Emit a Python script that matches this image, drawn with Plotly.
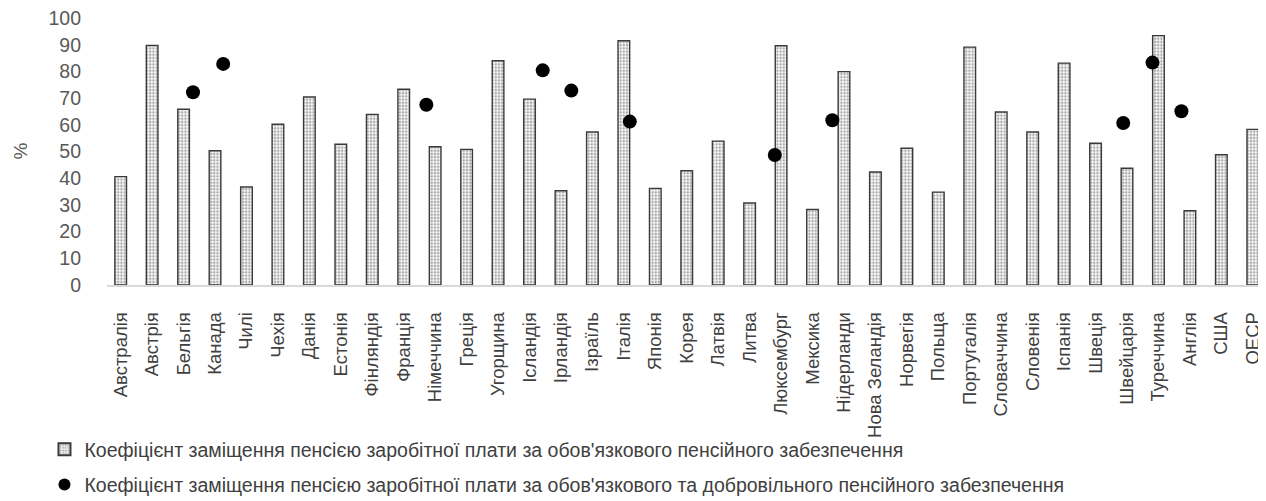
import plotly.graph_objects as go

countries = ["Австралія", "Австрія", "Бельгія", "Канада", "Чилі", "Чехія", "Данія", "Естонія",
             "Фінляндія", "Франція", "Німеччина", "Греція", "Угорщина", "Ісландія", "Ірландія",
             "Ізраїль", "Італія", "Японія", "Корея", "Латвія", "Литва", "Люксембург", "Мексика",
             "Нідерланди", "Нова Зеландія", "Норвегія", "Польща", "Португалія", "Словаччина",
             "Словенія", "Іспанія", "Швеція", "Швейцарія", "Туреччина", "Англія", "США", "ОЕСР"]

mandatory = [40.6, 89.7, 65.8, 50.3, 36.7, 60.2, 70.4, 52.7, 63.9, 73.3, 51.8, 50.8, 84.0,
             69.6, 35.3, 57.3, 91.5, 36.2, 42.8, 53.9, 30.7, 89.6, 28.3, 79.9, 42.3, 51.2,
             34.8, 89.1, 64.8, 57.3, 83.1, 53.1, 43.7, 93.4, 27.8, 48.8, 58.3]

# position of each dot on the category axis and its value
total_pos = [2.30, 3.26, 9.72, 13.42, 14.33, 16.19, 20.80, 22.63, 31.88, 32.81, 33.73]
total_val = [72.2, 82.8, 67.5, 80.4, 72.8, 61.2, 48.7, 61.7, 60.7, 83.3, 65.1]

y_ticks = list(range(0, 101, 10))
y_title = "%"

name_bar = "Коефіцієнт заміщення пенсією заробітної плати за обов'язкового пенсійного забезпечення"
name_dot = "Коефіцієнт заміщення пенсією заробітної плати за обов'язкового та добровільного пенсійного забезпечення"

idx = list(range(len(countries)))

fig = go.Figure()
fig.add_trace(go.Bar(
    x=idx, y=mandatory, width=0.37, name=name_bar, legendgroup="a",
    marker=dict(color="white",
                line=dict(color="#3a3a3a", width=1.4),
                pattern=dict(shape=".", fgcolor="#555555", bgcolor="#f4f4f4", size=3.2, solidity=0.4)),
))
fig.add_trace(go.Scatter(
    x=total_pos, y=total_val, mode="markers", name=name_dot, legendgroup="b",
    marker=dict(color="black", size=14, symbol="circle"),
))

font_family = "Liberation Sans, Arial, sans-serif"
fig.update_layout(
    width=1258, height=493,
    margin=dict(l=99, r=0, t=10, b=216, autoexpand=False),
    paper_bgcolor="white", plot_bgcolor="white",
    font=dict(family=font_family, color="#595959"),
    showlegend=True,
    legend=dict(orientation="v", xref="container", yref="container",
                x=0.029, xanchor="left", y=0.144, yanchor="top",
                font=dict(size=19.5, color="#404040"), tracegroupgap=7,
                traceorder="grouped", itemwidth=30, itemsizing="constant",
                bgcolor="rgba(0,0,0,0)", borderwidth=0),
    annotations=[dict(text=y_title, xref="paper", yref="paper", x=-0.075, y=0.5,
                      xanchor="center", yanchor="middle", textangle=-90, showarrow=False,
                      font=dict(size=19, color="#595959"))],
)
fig.update_xaxes(
    range=[-0.435, 36.42], tickmode="array", tickvals=idx, ticktext=countries,
    tickangle=-90, tickfont=dict(size=18.5, color="#404040"),
    showline=True, linecolor="#d9d9d9", linewidth=1.5, showgrid=False, zeroline=False,
    ticks="", ticklabelstandoff=18, automargin=False, ticklabeloverflow="allow",
)
fig.update_yaxes(
    range=[0, 100], tickmode="array", tickvals=y_ticks,
    tickfont=dict(size=19.5, color="#595959"), showgrid=False, zeroline=False,
    showline=False, ticks="", ticklabelstandoff=25, automargin=False,
    ticklabeloverflow="allow",
)

fig.write_html("out.html")
